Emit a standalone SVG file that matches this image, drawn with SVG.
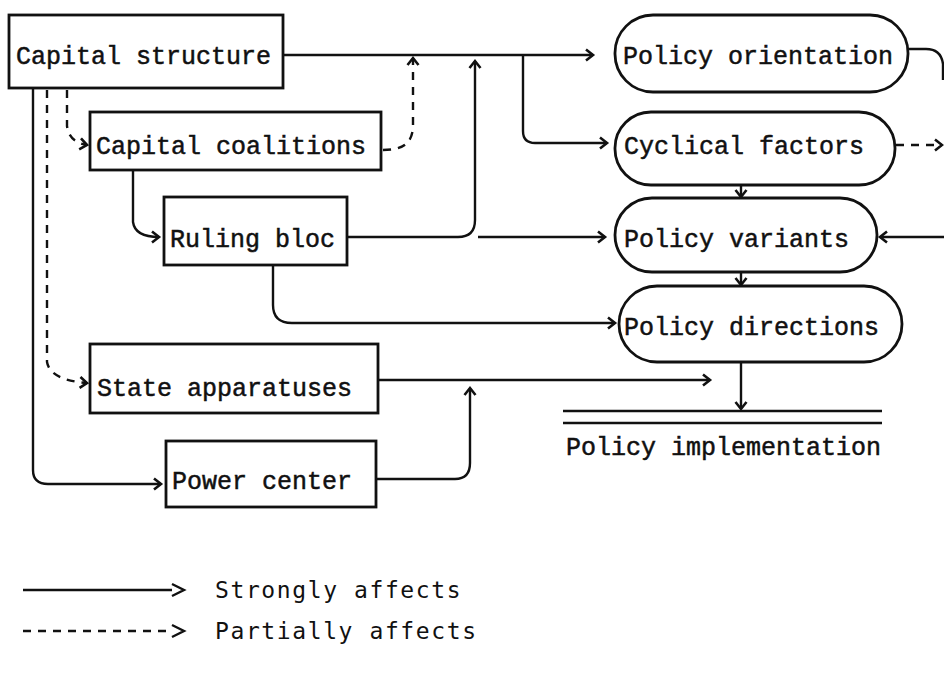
<svg xmlns="http://www.w3.org/2000/svg" width="944" height="673" viewBox="0 0 944 673">
<style>
.box{fill:#fff;stroke:#111;stroke-width:2.8}
.t{font-family:"Liberation Mono","Courier New",monospace;font-size:25px;fill:#111;stroke:#111;stroke-width:0.5}
.lg{font-family:"DejaVu Sans Mono","Liberation Mono",monospace;font-size:23px;fill:#111;letter-spacing:1.6px}
.c{fill:none;stroke:#111;stroke-width:2.4}
.d{stroke-dasharray:8 7}
</style>
<defs>
<marker id="ah" markerUnits="userSpaceOnUse" markerWidth="14" markerHeight="14" refX="10" refY="7" orient="auto">
<path d="M3,1.5 L10,7 L3,12.5" fill="none" stroke="#111" stroke-width="2.6"/>
</marker>
</defs>
<rect width="944" height="673" fill="#fff"/>
<g id="connectors">
<path class="c" d="M283,55 H593" marker-end="url(#ah)"/>
<path class="c" d="M523,55 V131 Q523,143 535,143 H607" marker-end="url(#ah)"/>
<path class="c" d="M347,237 H458 Q475,237 475,220 V61" marker-end="url(#ah)"/>
<path class="c" d="M478,237 H605" marker-end="url(#ah)"/>
<path class="c d" d="M383,150 C402,150 413,144 413,125 V58" marker-end="url(#ah)"/>
<path class="c d" d="M67,90 V126 Q69,142 87,145" marker-end="url(#ah)"/>
<path class="c d" d="M47,90 V362 Q50,380 87,383" marker-end="url(#ah)"/>
<path class="c" d="M33,88 V470 Q33,484 48,484 H161" marker-end="url(#ah)"/>
<path class="c" d="M133,171 V222 Q135,237 159,237" marker-end="url(#ah)"/>
<path class="c" d="M273,266 V305 Q273,323 292,323 H615" marker-end="url(#ah)"/>
<path class="c" d="M378,380 H710" marker-end="url(#ah)"/>
<path class="c" d="M376,479 H455 Q470,479 470,463 V388" marker-end="url(#ah)"/>
<path class="c" d="M741,186 V197" marker-end="url(#ah)"/>
<path class="c" d="M741,272 V285" marker-end="url(#ah)"/>
<path class="c" d="M741,362 V409" marker-end="url(#ah)"/>
<path class="c" d="M908,49 H926 Q941,49 943,64 V80"/>
<path class="c d" d="M896,145 H942" marker-end="url(#ah)"/>
<path class="c" d="M944,237 H880" marker-end="url(#ah)"/>
</g>
<g id="capital-structure"><rect class="box" x="9" y="15" width="274" height="73"/><text class="t" x="16" y="64">Capital structure</text></g>
<g id="capital-coalitions"><rect class="box" x="90" y="112" width="291" height="58"/><text class="t" x="96" y="154">Capital coalitions</text></g>
<g id="ruling-bloc"><rect class="box" x="164" y="197" width="183" height="68"/><text class="t" x="170" y="247">Ruling bloc</text></g>
<g id="state-apparatuses"><rect class="box" x="90" y="344" width="288" height="69"/><text class="t" x="97" y="396">State apparatuses</text></g>
<g id="power-center"><rect class="box" x="166" y="441" width="210" height="66"/><text class="t" x="172" y="489">Power center</text></g>
<g id="policy-orientation"><rect class="box" x="615" y="15" width="293" height="77" rx="38"/><text class="t" x="623" y="64">Policy orientation</text></g>
<g id="cyclical-factors"><rect class="box" x="615" y="112" width="280" height="73" rx="36"/><text class="t" x="624" y="154">Cyclical factors</text></g>
<g id="policy-variants"><rect class="box" x="615" y="198" width="262" height="74" rx="37"/><text class="t" x="624" y="247">Policy variants</text></g>
<g id="policy-directions"><rect class="box" x="619" y="286" width="283" height="76" rx="38"/><text class="t" x="624" y="335">Policy directions</text></g>
<g id="policy-implementation">
<path class="c" d="M563,411 H882 M563,423 H882" stroke-width="2.8"/>
<text class="t" x="566" y="455">Policy implementation</text>
</g>
<g id="legend">
<path class="c" d="M23,590 H172"/>
<path class="c" d="M172,584 L184,590 L172,596"/>
<text class="lg" x="215" y="598">Strongly affects</text>
<path class="c" d="M23,631 H168" stroke-dasharray="8 7"/>
<path class="c" d="M172,625 L184,631 L172,637"/>
<text class="lg" x="215" y="639">Partially affects</text>
</g>
</svg>
